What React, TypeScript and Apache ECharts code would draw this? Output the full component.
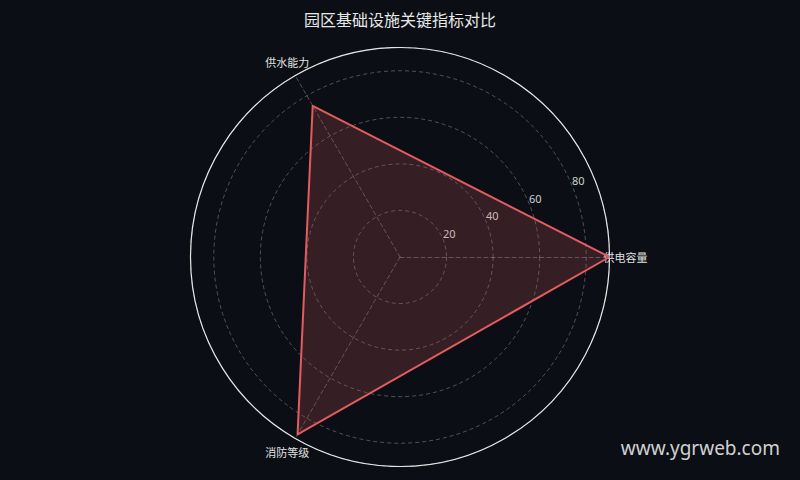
import { useEffect, useRef } from 'react';
import * as echarts from 'echarts';

// chart data
const indicatorNames = ['供电容量', '供水能力', '消防等级'];
const indicatorValues = [90, 75, 88];
const axisMax = 90;
const tickStep = 20;
const tickLabels = [20, 40, 60, 80];
const titleText = '园区基础设施关键指标对比';

const center = [400, 257];
const radius = 209.5;

export default function App() {
    const chartRef = useRef<HTMLDivElement>(null);

    useEffect(() => {
        const myChart = echarts.init(chartRef.current, null, { renderer: 'svg' });

        myChart.setOption({
            animation: false,
            backgroundColor: '#0b0e14',
            title: {
                text: titleText,
                left: 'center',
                top: 6,
                textStyle: {
                    color: '#e8e8e8',
                    fontSize: 16,
                    fontWeight: 'normal',
                    fontFamily: 'Noto Sans CJK SC',
                },
            },
            // polar system only for the rings, outer circle and radius labels
            polar: { center, radius },
            angleAxis: {
                type: 'value',
                min: 0,
                max: 360,
                startAngle: 22.5,
                axisLine: { show: true, lineStyle: { color: '#e6e6e6', width: 1.2 } },
                axisTick: { show: false },
                axisLabel: { show: false },
                splitLine: { show: false },
            },
            radiusAxis: {
                type: 'value',
                min: 0,
                max: axisMax,
                interval: tickStep,
                axisLine: { show: false },
                axisTick: { show: false },
                axisLabel: {
                    margin: 0,
                    align: 'left',
                    verticalAlign: 'bottom',
                    color: '#d0d0d0',
                    fontSize: 11,
                    fontFamily: 'Noto Sans',
                    formatter: (v: number) => (tickLabels.includes(v) ? String(v) : ''),
                },
                splitLine: {
                    show: true,
                    lineStyle: { color: 'rgba(255,255,255,0.28)', type: [4, 3], width: 1 },
                },
            },
            radar: {
                center,
                radius,
                startAngle: 0,
                shape: 'circle',
                indicator: indicatorNames.map((name) => ({ name, max: axisMax, min: 0 })),
                nameGap: 16,
                axisName: {
                    color: '#e0e0e0',
                    fontSize: 11,
                    fontFamily: 'Noto Sans CJK SC',
                    align: 'center',
                    verticalAlign: 'middle',
                },
                axisLine: {
                    show: true,
                    lineStyle: { color: 'rgba(255,255,255,0.28)', type: [4, 3], width: 1 },
                },
                axisTick: { show: false },
                axisLabel: { show: false },
                splitLine: { show: false },
                splitArea: { show: false },
            },
            series: [
                {
                    type: 'radar',
                    symbol: 'none',
                    lineStyle: { color: '#e55d5f', width: 2 },
                    areaStyle: { color: 'rgba(212,88,98,0.3)' },
                    data: [{ value: indicatorValues, name: titleText }],
                },
            ],
            graphic: [
                {
                    type: 'text',
                    right: 20,
                    bottom: 23,
                    style: {
                        text: 'www.ygrweb.com',
                        fill: 'rgba(255,255,255,0.82)',
                        fontSize: 19,
                        fontFamily: 'Noto Sans',
                    },
                },
            ],
        });

        return () => {
            myChart.dispose();
        };
    }, []);

    return (
        <div
            ref={chartRef}
            style={{ position: 'absolute', left: 0, top: 0, width: '800px', height: '480px' }}
        />
    );
}
